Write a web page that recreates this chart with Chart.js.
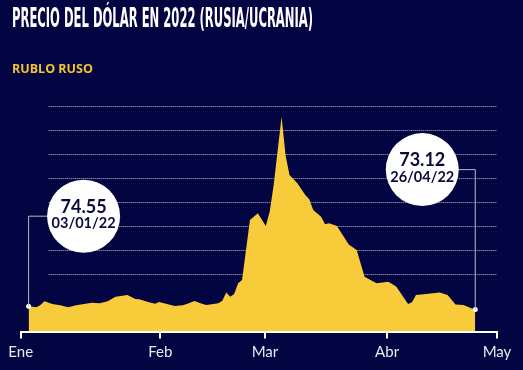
<!DOCTYPE html>
<html>
<head>
<meta charset="utf-8">
<script src="https://cdn.jsdelivr.net/npm/chart.js@4"></script>
<style>
  body { margin: 0; background: #030442; }
  #grafico { display: block; }
</style>
</head>
<body>
<canvas id="grafico" width="523" height="370"></canvas>
<script>
// datos (rublos por dolar, 2022)
var fechas = ['03/01','05/01','06/01','07/01','09/01','11/01','13/01','15/01','17/01','19/01','21/01','23/01','25/01','28/01','30/01','31/01',
  '02/02','04/02','05/02','07/02','09/02','11/02','12/02','14/02','16/02','17/02','20/02','21/02','22/02','23/02','24/02','25/02','26/02','28/02',
  '02/03','04/03','05/03','06/03','08/03','09/03','10/03','12/03','14/03','15/03','16/03','18/03','19/03','20/03','22/03','25/03','27/03','29/03',
  '01/04','04/04','06/04','09/04','10/04','11/04','13/04','17/04','19/04','21/04','23/04','25/04','26/04'];
var valores = [74.55,74.1,75.0,76.6,75.5,74.9,74.1,74.9,75.5,76.0,75.75,76.6,78.5,79.2,77.5,77.4,
  76.4,75.6,76.3,75.5,74.6,74.9,75.5,76.7,75.5,75.0,75.75,76.8,80.2,78.5,79.6,84.1,85.5,110.5,
  113.25,108,114,125,153.5,137.5,129.2,125.75,120.9,119.1,114.6,111.8,108.7,109.1,108,100.3,98,86.8,
  84.1,84.75,82.7,75.5,76.2,79.2,79.5,80.3,79.2,75.3,75.0,73.7,73.12];

// eje x en dias desde el 1 de enero
var mesTicks = [0, 35.3, 61.8, 92.7, 120.5];
var mesLabels = ['Ene', 'Feb', 'Mar', 'Abr', 'May'];
var lineasGuia = [88, 98, 108, 118, 128, 138, 148, 158];

var titulo = 'PRECIO DEL DÓLAR EN 2022 (RUSIA/UCRANIA)';
var subtitulo = 'RUBLO RUSO';

function diaDelAnio(f){
  var p = f.split('/');
  return (Date.UTC(2022, +p[1] - 1, +p[0]) - Date.UTC(2022, 0, 1)) / 86400000;
}

var puntos = fechas.map(function(f, i){
  return { x: diaDelAnio(f), y: valores[i] };
});
var ultimo = puntos.length - 1;

function burbuja(ctx, px, py, cx, cy, valor, fecha){
  var r = 36.5;
  ctx.save();
  ctx.strokeStyle = '#b9b9c6';
  ctx.lineWidth = 1;
  ctx.beginPath();
  ctx.moveTo(px, py);
  ctx.lineTo(px, cy);
  ctx.lineTo(cx, cy);
  ctx.stroke();

  ctx.fillStyle = '#ffffff';
  ctx.beginPath();
  ctx.arc(cx, cy, r, 0, Math.PI * 2);
  ctx.fill();

  ctx.fillStyle = '#0b0b3a';
  ctx.textAlign = 'center';
  ctx.textBaseline = 'middle';
  ctx.font = 'bold 18px Lato';
  ctx.fillText(valor, cx, cy - 9);
  ctx.font = 'bold 14.5px Lato';
  ctx.fillText(fecha, cx, cy + 7.5);
  ctx.restore();
}

var textos = {
  id: 'textos',
  beforeDatasetsDraw: function(chart){
    var ctx = chart.ctx;
    var y = chart.scales.y;
    var area = chart.chartArea;

    ctx.save();
    // titulo condensado
    ctx.fillStyle = '#ffffff';
    ctx.font = 'bold 26px "DejaVu Sans Condensed", "Liberation Sans", sans-serif';
    ctx.textBaseline = 'alphabetic';
    var w = ctx.measureText(titulo).width;
    ctx.translate(12, 26.7);
    ctx.scale(301 / w, 1);
    ctx.fillText(titulo, 0, 0);
    ctx.restore();

    ctx.save();
    ctx.fillStyle = '#f5c531';
    ctx.font = 'bold 12.5px "Open Sans"';
    ctx.textBaseline = 'alphabetic';
    ctx.fillText(subtitulo, 12, 72.7);

    // lineas punteadas
    ctx.strokeStyle = '#b4b4c8';
    ctx.lineWidth = 1;
    ctx.setLineDash([1, 1]);
    lineasGuia.forEach(function(v){
      var py = Math.round(y.getPixelForValue(v)) + 0.5;
      ctx.beginPath();
      ctx.moveTo(area.left + 28, py);
      ctx.lineTo(area.right, py);
      ctx.stroke();
    });
    ctx.restore();
  },
  afterDatasetsDraw: function(chart){
    var ctx = chart.ctx;
    var meta = chart.getDatasetMeta(0);
    var a = meta.data[0], b = meta.data[ultimo];
    burbuja(ctx, a.x, a.y, a.x + 55, a.y - 90, valores[0].toFixed(2), fechas[0] + '/22');
    burbuja(ctx, b.x, b.y, b.x - 53, b.y - 140, valores[ultimo].toFixed(2), fechas[ultimo] + '/22');
  }
};

var ctx = document.getElementById('grafico').getContext('2d');
var chart = new Chart(ctx, {
  type: 'line',
  data: {
    datasets: [{
      data: puntos,
      borderWidth: 0,
      backgroundColor: '#f8cb3b',
      fill: 'start',
      tension: 0,
      pointRadius: function(c){ return (c.dataIndex === 0 || c.dataIndex === ultimo) ? 2.5 : 0; },
      pointBackgroundColor: '#ffffff',
      pointBorderWidth: 0
    }]
  },
  options: {
    responsive: false,
    animation: false,
    layout: { padding: { left: 20.7, right: 26, top: 105.9, bottom: 0 } },
    plugins: { legend: { display: false }, tooltip: { enabled: false } },
    scales: {
      x: {
        type: 'linear',
        min: 0,
        max: 120.5,
        afterBuildTicks: function(s){ s.ticks = mesTicks.map(function(v){ return { value: v }; }); },
        afterFit: function(s){ s.height = 38.5; },
        ticks: {
          color: '#e8e8f0',
          font: { family: 'Lato', size: 15 },
          padding: 5,
          maxRotation: 0,
          autoSkip: false,
          callback: function(v, i){ return mesLabels[i]; }
        },
        grid: { drawOnChartArea: false, drawTicks: true, tickLength: 7, color: '#ffffff', lineWidth: 2 },
        border: { color: '#ffffff', width: 2 }
      },
      y: {
        display: false,
        min: 64,
        max: 158
      }
    }
  },
  plugins: [textos]
});
</script>
</body>
</html>
